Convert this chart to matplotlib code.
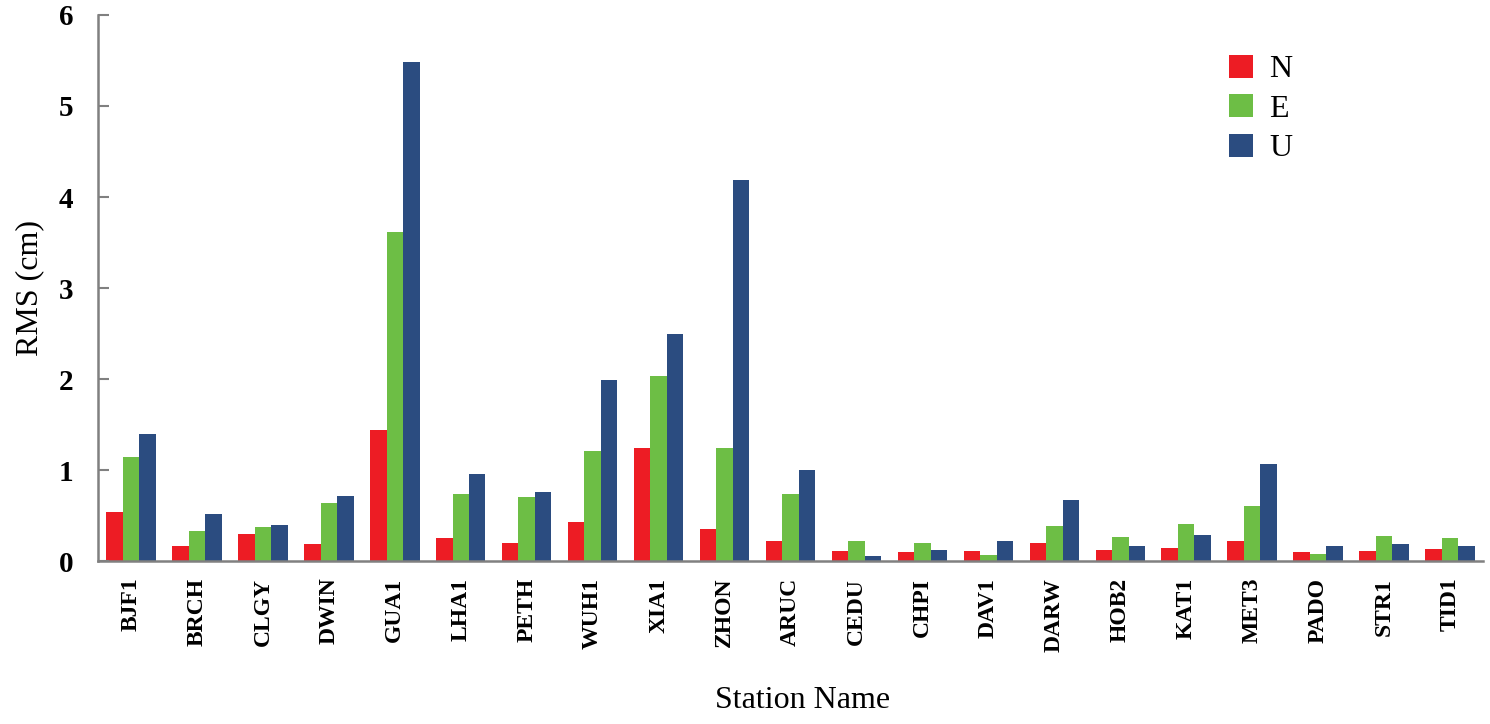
import matplotlib.pyplot as plt
import numpy as np

plt.rcParams['font.family'] = ['Liberation Serif', 'DejaVu Serif']

stations = ['BJF1', 'BRCH', 'CLGY', 'DWIN', 'GUA1', 'LHA1', 'PETH', 'WUH1', 'XIA1', 'ZHON', 'ARUC',
            'CEDU', 'CHPI', 'DAV1', 'DARW', 'HOB2', 'KAT1', 'MET3', 'PADO', 'STR1', 'TID1']
rms_n = [0.54, 0.16, 0.30, 0.19, 1.44, 0.25, 0.20, 0.43, 1.24, 0.35, 0.22,
         0.11, 0.10, 0.11, 0.20, 0.12, 0.14, 0.22, 0.10, 0.11, 0.13]
rms_e = [1.14, 0.33, 0.37, 0.64, 3.62, 0.74, 0.70, 1.21, 2.03, 1.24, 0.74,
         0.22, 0.20, 0.07, 0.38, 0.26, 0.41, 0.60, 0.08, 0.28, 0.25]
rms_u = [1.40, 0.52, 0.40, 0.72, 5.48, 0.96, 0.76, 1.99, 2.50, 4.19, 1.00,
         0.05, 0.12, 0.22, 0.67, 0.16, 0.29, 1.07, 0.17, 0.19, 0.17]

colors = {'N': '#ED1C24', 'E': '#6DBE45', 'U': '#2B4C80'}

fig = plt.figure(figsize=(14.9, 7.24), dpi=100)
ax = fig.add_axes([0.0658, 0.2251, 0.9295, 0.7542])

x = np.arange(len(stations))
w = 0.25
ax.bar(x - w, rms_n, w, color=colors['N'], label='N')
ax.bar(x, rms_e, w, color=colors['E'], label='E')
ax.bar(x + w, rms_u, w, color=colors['U'], label='U')

ax.set_xlim(-0.5, len(stations) - 0.5)
ax.set_ylim(0, 6)
ax.set_yticks(range(7))
ax.set_xticks(x)
ax.set_xticklabels(stations, rotation=90, fontsize=17, fontweight='bold')
for lbl in ax.get_yticklabels():
    lbl.set_fontsize(21)
    lbl.set_fontweight('bold')

for side in ['top', 'right']:
    ax.spines[side].set_visible(False)
for side in ['left', 'bottom']:
    ax.spines[side].set_color('#808080')
    ax.spines[side].set_linewidth(1.8)

ax.tick_params(axis='y', direction='in', length=8, width=1.5, color='#808080', pad=18)
ax.tick_params(axis='x', length=0, pad=12)

ax.set_ylabel('RMS (cm)', fontsize=23, va='center')
ax.yaxis.set_label_coords(-0.049, 0.5)
ax.set_xlabel('Station Name', fontsize=23, va='center')
ax.xaxis.set_label_coords(0.509, -0.255)

ax.legend(loc='upper left', bbox_to_anchor=(0.796, 0.98), frameon=False, fontsize=23,
          handlelength=0.75, handleheight=0.75, handletextpad=0.5, labelspacing=0.3)

fig.savefig('out.png', dpi=100)
